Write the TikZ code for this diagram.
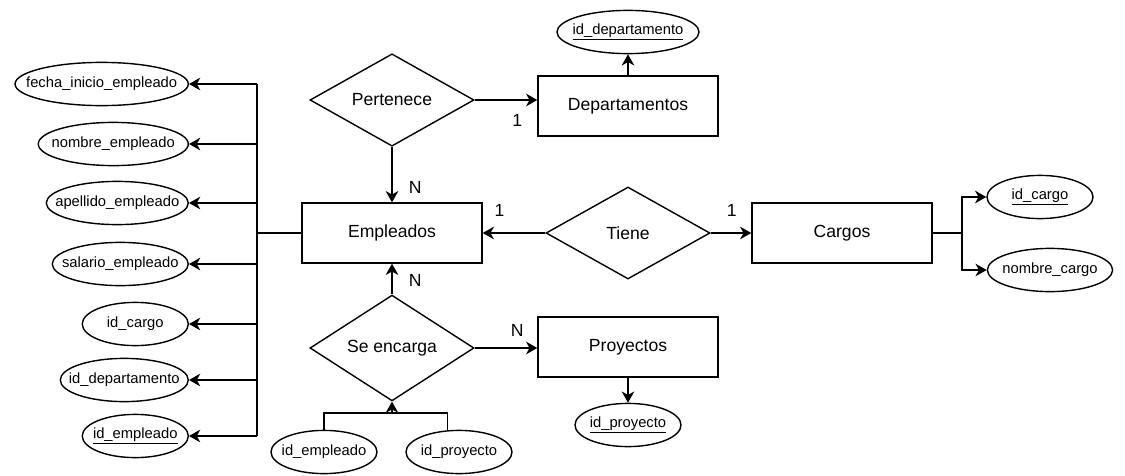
\documentclass[tikz,border=0pt]{standalone}
\usepackage{fontspec}
\setmainfont{Liberation Sans}
\usetikzlibrary{shapes.geometric, arrows.meta}

\newcommand{\atrib}[1]{\makebox[0pt][c]{#1}}

\tikzset{
  entidad/.style={draw, rectangle, minimum width=4.5cm, minimum height=1.5cm, font=\fontsize{12.5}{15}\selectfont},
  relacion/.style={draw, diamond, inner sep=0pt, minimum width=4.1cm, minimum height=2.3cm, font=\fontsize{12.5}{15}\selectfont},
  atributo/.style={draw, ellipse, inner sep=0pt, minimum height=1.08cm, font=\fontsize{10.5}{12}\selectfont},
  card/.style={inner sep=1pt, font=\fontsize{12.5}{15}\selectfont},
  flecha/.style={-{Stealth[length=8pt, width=9pt, inset=2.5pt]}},
}

\begin{document}
\begin{tikzpicture}[x=0.025cm, y=-0.025cm, line width=1pt]
  \useasboundingbox (0,0) rectangle (1125,475);
  % entidades
  \node[entidad] (emp) at (392,233) {Empleados};
  \node[entidad] (dep) at (628,106) {Departamentos};
  \node[entidad] (car) at (842,233) {Cargos};
  \node[entidad] (pro) at (628,347) {Proyectos};
  % relaciones
  \node[relacion] (per) at (392,100) {Pertenece};
  \node[relacion] (tie) at (628,233) {Tiene};
  \node[relacion] (enc) at (392,348) {Se encarga};

  % atributos de Empleados
  \node[atributo, anchor=east, minimum width=4.33cm] (fecha) at (189,84) {\atrib{fecha\_inicio\_empleado}};
  \node[atributo, anchor=east, minimum width=3.75cm] (nombre) at (189,144) {\atrib{nombre\_empleado}};
  \node[atributo, anchor=east, minimum width=3.55cm] (apellido) at (189,203) {\atrib{apellido\_empleado}};
  \node[atributo, anchor=east, minimum width=3.4cm] (salario) at (189,264) {\atrib{salario\_empleado}};
  \node[atributo, anchor=east, minimum width=2.65cm] (idcar) at (189,324) {\atrib{id\_cargo}};
  \node[atributo, anchor=east, minimum width=3.2cm] (iddep) at (189,380) {\atrib{id\_departamento}};
  \node[atributo, anchor=east, minimum width=2.65cm] (idemp) at (189,436) {\atrib{\underline{id\_empleado}}};
  \coordinate (bus) at (257,233);
  \draw (emp.west) -- (bus);
  \draw (fecha.east -| bus) -- (idemp.east -| bus);
  \foreach \a in {fecha, nombre, apellido, salario, idcar, iddep, idemp}
    \draw[flecha] (\a.east -| bus) -- (\a.east);

  % atributos de Departamentos
  \node[atributo, minimum width=3.55cm] (depid) at (628,32) {\atrib{\underline{id\_departamento}}};
  \draw[flecha] (dep.north) -- (depid.south);

  % atributos de Cargos
  \node[atributo, minimum width=2.65cm] (carid) at (1040,197) {\atrib{\underline{id\_cargo}}};
  \node[atributo, minimum width=3.13cm] (carnom) at (1050,270) {\atrib{nombre\_cargo}};
  \coordinate (cbus) at (962,233);
  \draw (car.east) -- (cbus);
  \draw[flecha] (cbus) |- (carid.west);
  \draw[flecha] (cbus) |- (carnom.west);

  % atributos de Proyectos
  \node[atributo, minimum width=2.65cm] (proid) at (628,425) {\atrib{\underline{id\_proyecto}}};
  \draw[flecha] (pro.south) -- (proid.north);

  % atributos de Se encarga
  \node[atributo, minimum width=2.65cm] (encemp) at (324,452) {\atrib{id\_empleado}};
  \node[atributo, minimum width=2.65cm] (encpro) at (459,452) {\atrib{id\_proyecto}};
  \coordinate (ebus) at (392,413);
  \draw (encemp.north) |- (ebus);
  \draw (encpro.118) |- (ebus);
  \draw[flecha] (ebus) -- (enc.south);

  % relaciones con cardinalidad
  \draw[flecha] (per.east) -- (per.east -| dep.west) node[card, pos=0.68, below=9pt] {1};
  \draw[flecha] (per.south) -- (emp.north) node[card, pos=0.74, right=10.5pt] {N};
  \draw[flecha] (tie.west) -- (emp.east) node[card, pos=0.73, above=10pt] {1};
  \draw[flecha] (tie.east) -- (car.west) node[card, pos=0.52, above=10pt] {1};
  \draw[flecha] (enc.north) -- (emp.south) node[card, pos=0.46, right=10.5pt] {N};
  \draw[flecha] (enc.east) -- (enc.east -| pro.west) node[card, pos=0.68, above=6.5pt] {N};
\end{tikzpicture}
\end{document}
